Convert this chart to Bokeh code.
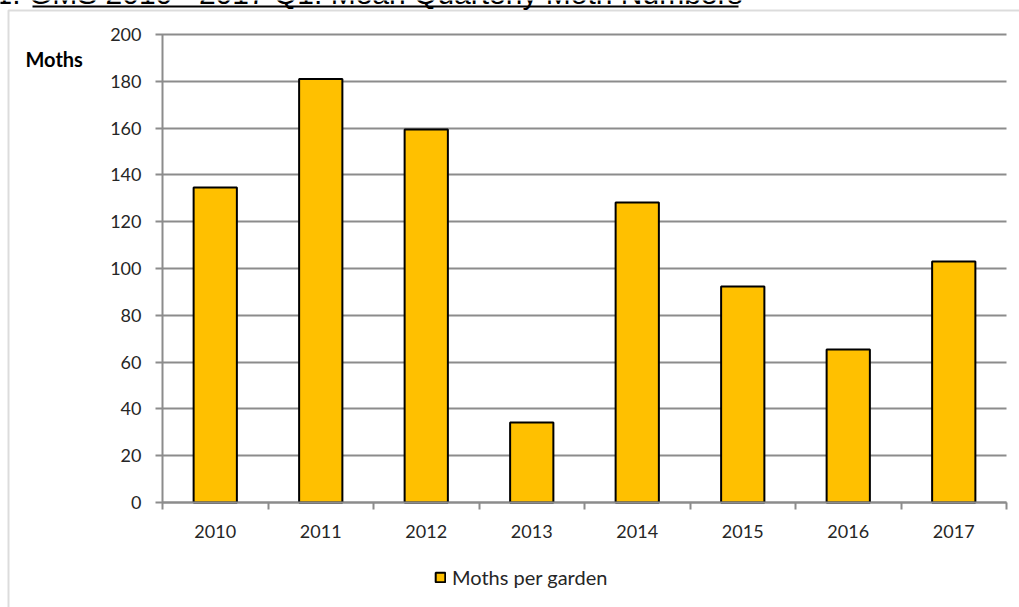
from bokeh.plotting import figure
from bokeh.models import (Range1d, FixedTicker, Label, BoxAnnotation, Legend, LegendItem,
                          ColumnDataSource)
from bokeh.embed import file_html
from bokeh.resources import INLINE
import numpy as np

years = ["2010", "2011", "2012", "2013", "2014", "2015", "2016", "2017"]
moths_per_garden = [134.6, 181.0, 159.4, 34.2, 128.2, 92.3, 65.4, 103.0]
y_ticks = [0, 20, 40, 60, 80, 100, 120, 140, 160, 180, 200]
title_text = "1. GMS 2010 - 2017 Q1: Mean Quarterly Moth Numbers"
y_title = "Moths"
series_name = "Moths per garden"

W, H = 1019, 607
# plot-area placement on the page (pixels)
PL, PR, PT, PB = 162, 1006, 34, 502
YMAX = max(y_ticks)
NCAT = len(years)

# the frame covers the whole page so that texts outside the plot area are not clipped;
# ranges are set so that the value box (0..NCAT, 0..YMAX) lands on the plot area
xs = (PR - PL) / NCAT
ys = (PB - PT) / YMAX
x_range = Range1d(-PL / xs, NCAT + (W - PR) / xs)
y_range = Range1d(-(H - PB) / ys, YMAX + PT / ys)

x_pos = np.arange(NCAT) + 0.5
src = ColumnDataSource(dict(x=x_pos, top=moths_per_garden, year=years))

GRAY = "#8c8c8c"
TXT = "#262626"
FONT = "Lato"

p = figure(width=W, height=H, output_backend="svg", toolbar_location=None, title=None,
           x_range=x_range, y_range=y_range, min_border=0,
           min_border_left=0, min_border_right=0, min_border_top=0, min_border_bottom=0)
p.outline_line_color = None
p.background_fill_color = "white"
p.border_fill_color = "white"
p.xgrid.visible = False
p.ygrid.visible = False

r = p.vbar(x="x", top="top", width=0.41, source=src, fill_color="#FFC000",
           line_color="black", line_width=2)

# x axis: labels at category centres, tick marks at category boundaries
xa = p.xaxis[0]
xa.fixed_location = 0
xa.bounds = (0, NCAT)
xa.ticker = FixedTicker(ticks=list(x_pos), minor_ticks=list(range(NCAT + 1)))
xa.major_label_overrides = {float(xv): y for xv, y in zip(x_pos, years)}
xa.major_tick_out = 0
xa.major_tick_in = 0
xa.minor_tick_out = 7
xa.minor_tick_in = 0
xa.minor_tick_line_color = GRAY
xa.minor_tick_line_width = 2
xa.axis_line_color = GRAY
xa.axis_line_width = 2
xa.major_label_standoff = 15
xa.major_label_text_font = FONT
xa.major_label_text_font_size = "18px"
xa.major_label_text_color = TXT

# y axis: its inward ticks run across the plot area as the horizontal grid lines
ya = p.yaxis[0]
ya.fixed_location = 0
ya.bounds = (0, YMAX)
ya.level = "underlay"
ya.ticker = FixedTicker(ticks=y_ticks, minor_ticks=[])
ya.major_tick_out = 7
ya.major_tick_in = PR - PL
ya.major_tick_line_color = GRAY
ya.major_tick_line_width = 2
ya.axis_line_color = GRAY
ya.axis_line_width = 2
ya.major_label_standoff = 14
ya.major_label_text_font = FONT
ya.major_label_text_font_size = "18px"
ya.major_label_text_color = TXT

# outer chart border
p.add_layout(BoxAnnotation(left=8, right=W + 50, top=10, bottom=H + 50,
                           left_units="canvas", right_units="canvas",
                           top_units="canvas", bottom_units="canvas",
                           fill_color=None, fill_alpha=0, line_color=GRAY, line_width=2))

# title, cut off by the top of the page as in the reference, with its underline
p.add_layout(Label(x=-5, y=-7, x_units="canvas", y_units="canvas", text=title_text,
                   text_font="Liberation Sans", text_font_size="30px",
                   text_color="black", text_baseline="alphabetic"))
p.add_layout(BoxAnnotation(left=32, right=738, top=5, bottom=7,
                           left_units="canvas", right_units="canvas",
                           top_units="canvas", bottom_units="canvas",
                           fill_color="black", fill_alpha=1, line_color=None))

# axis heading
p.add_layout(Label(x=25, y=58, x_units="canvas", y_units="canvas", text=y_title,
                   text_font=FONT, text_font_size="20px", text_font_style="bold",
                   text_color="black", text_baseline="alphabetic"))

legend = Legend(items=[LegendItem(label=series_name, renderers=[r])],
                location=(434, 18), orientation="horizontal",
                glyph_width=12, glyph_height=12, label_height=12,
                label_text_font=FONT, label_text_font_size="20px",
                label_text_color=TXT, label_standoff=6,
                padding=0, margin=0, border_line_color=None,
                background_fill_alpha=0)
p.add_layout(legend, "center")

open("out.html", "w").write(file_html(p, INLINE))
